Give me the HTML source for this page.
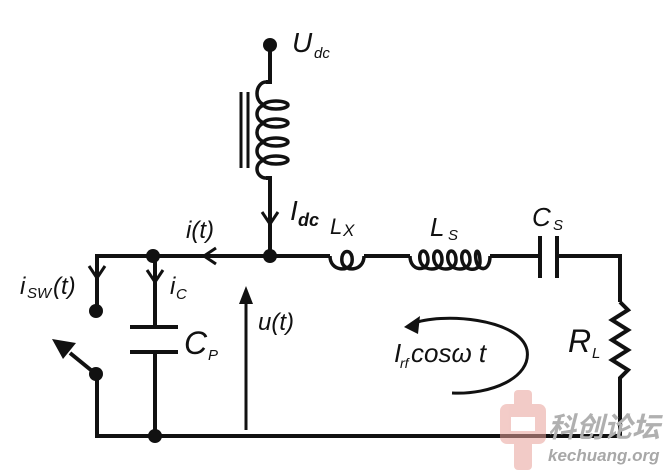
<!DOCTYPE html>
<html><head><meta charset="utf-8"><style>
html,body{margin:0;padding:0;background:#fff;}
svg{display:block;}
text{font-family:"Liberation Sans",Arial,sans-serif;fill:#111;font-style:italic;}
</style></head><body>
<svg width="672" height="476" viewBox="0 0 672 476" xmlns="http://www.w3.org/2000/svg">
<g fill="none" stroke="#111" stroke-width="4" stroke-linejoin="miter">
<!-- choke -->
<path d="M270 45 V82 H266"/>
<g stroke-width="3.5">
<path d="M266 82 A9 11.5 0 0 0 266 105"/>
<path d="M266 105 A9 9 0 0 0 266 123"/>
<path d="M266 123 A9 9.5 0 0 0 266 142"/>
<path d="M266 142 A9 9 0 0 0 266 160"/>
<path d="M266 160 A9 9 0 0 0 266 178"/>
<ellipse cx="276" cy="105" rx="12" ry="4"/>
<ellipse cx="276" cy="123" rx="12" ry="4"/>
<ellipse cx="276" cy="142" rx="12" ry="4"/>
<ellipse cx="276" cy="160" rx="12" ry="4"/>
</g>
<path d="M266 178 H270 V256"/>
<line x1="241" y1="92" x2="241" y2="168" stroke-width="3"/>
<line x1="248" y1="92" x2="248" y2="168" stroke-width="3"/>
<!-- top wire -->
<path d="M97 290 V256 H330"/>
<path d="M330 256 C330 272 350 272 352 262 C354 248 340 248 342 262 C344 272 364 272 364 256" stroke-width="3.5"/>
<path d="M364 256 H410"/>
<path d="M410 256 C410 272 428 272 428 260 C428 248 418 248 420 260 C422 272 442 272 442 260 C442 248 432 248 434 260 C436 272 456 272 456 260 C456 248 446 248 448 260 C450 272 470 272 470 260 C470 248 460 248 462 260 C464 272 480 272 480 262 C480 248 474 248 476 260 C478 272 490 272 490 256" stroke-width="3.5"/>
<path d="M490 256 H540"/>
<line x1="540" y1="236" x2="540" y2="278"/>
<line x1="557" y1="236" x2="557" y2="278"/>
<path d="M557 256 H620 V302"/>
<path d="M620 302 l8 8 l-16 10 l16 10 l-16 10 l16 10 l-16 10 l16 10 l-8 8 V436 H97 V375"/>
<!-- Cp -->
<path d="M155 256 V327"/>
<line x1="130" y1="327" x2="178" y2="327"/>
<line x1="130" y1="352" x2="178" y2="352"/>
<path d="M155 352 V436"/>
<!-- switch -->
<path d="M97 290 V311"/>
<line x1="97" y1="375" x2="70" y2="353"/>
<!-- u(t) -->
<line x1="246" y1="430" x2="246" y2="300" stroke-width="3"/>
<!-- arc -->
<path d="M412 324 C440 312 520 318 527 350 C532 378 490 395 452 393" stroke-width="3"/>
<!-- small arrow chevrons -->
<path d="M262 212 L270 224 L278 212" stroke-width="3"/>
<path d="M216 248 L204 256 L216 264" stroke-width="3"/>
<path d="M89 266 L97 278 L105 266" stroke-width="3"/>
<path d="M147 270 L155 282 L163 270" stroke-width="3"/>
</g>
<g fill="#111">
<circle cx="270" cy="45" r="7"/>
<circle cx="270" cy="256" r="7"/>
<circle cx="153" cy="256" r="7"/>
<circle cx="155" cy="436" r="7"/>
<circle cx="96" cy="311" r="7"/>
<circle cx="96" cy="374" r="7"/>
<polygon points="52,339 76,343 63,359"/>
<polygon points="246,286 239,304 253,304"/>
<polygon points="404,327 420,316 418,334"/>
</g>
<!-- labels -->
<text x="292" y="52" font-size="28">U</text><text x="314" y="58" font-size="15">dc</text>
<text x="290" y="220" font-size="28">I</text><text x="298" y="226" font-size="18" font-weight="bold">dc</text>
<text x="330" y="234" font-size="22">L</text><text x="343" y="236" font-size="17">X</text>
<text x="430" y="236" font-size="26">L</text><text x="448" y="240" font-size="15">S</text>
<text x="532" y="226" font-size="26">C</text><text x="553" y="230" font-size="15">S</text>
<text x="186" y="238" font-size="24">i(t)</text>
<text x="20" y="294" font-size="24">i</text><text x="27" y="298" font-size="15">SW</text><text x="53" y="294" font-size="24">(t)</text>
<text x="170" y="294" font-size="24">i</text><text x="176" y="299" font-size="15">C</text>
<text x="184" y="354" font-size="32">C</text><text x="208" y="360" font-size="15">P</text>
<text x="258" y="330" font-size="24">u(t)</text>
<text x="394" y="362" font-size="26">I</text><text x="400" y="368" font-size="14">rf</text><text x="411" y="362" font-size="26">cosω t</text>
<text x="568" y="352" font-size="32">R</text><text x="592" y="358" font-size="15">L</text>
<!-- watermark -->
<g opacity="0.55">
<rect x="500" y="404" width="46" height="40" rx="7" fill="#e9a29a"/>
<rect x="514" y="390" width="18" height="80" rx="4" fill="#e9a29a"/>
<rect x="511" y="417" width="24" height="14" fill="#fff"/>
</g>
<text x="548" y="437" font-size="28" font-style="normal" style="fill:#b0b0b0;font-family:'Noto Sans CJK SC',sans-serif;font-weight:bold">科创论坛</text>
<text x="548" y="461" font-size="17" font-style="normal" style="fill:#a8a8a8;font-weight:bold">kechuang.org</text>
</svg>
</body></html>
